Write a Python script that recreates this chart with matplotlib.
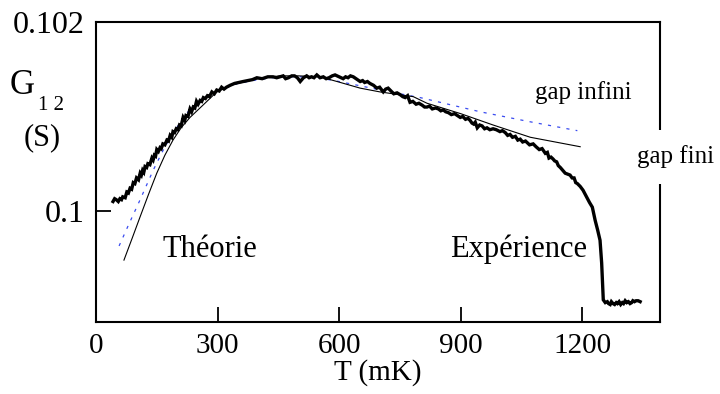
import matplotlib
matplotlib.use('Agg')
from matplotlib import pyplot as plt

plt.rcParams['font.family'] = ['Liberation Serif', 'DejaVu Serif']

# mesure : (T en mK, G12 en S), par tronçons
montee = [(42, .10010), (46, .10013), (50, .10012), (55, .10010), (59, .10013), (63, .10012),
          (66, .10015), (72, .10014), (76, .10020), (80, .10019), (84, .10024), (88, .10023),
          (92, .10030), (96, .10029), (100, .10035), (105, .10033), (109, .10040), (112, .10038),
          (115, .10043), (118, .10041), (121, .10047), (125, .10046), (128, .10050), (133, .10049),
          (138, .10056), (141, .10054), (144, .10059), (147, .10058), (150, .10065), (154, .10063),
          (158, .10067), (161, .10066), (165, .10071), (170, .10070), (175, .10075), (179, .10074),
          (183, .10080), (187, .10078), (190, .10084), (194, .10083), (198, .10087), (202, .10086),
          (206, .10091), (210, .10090), (215, .10099), (219, .10096), (222, .10101), (227, .10100),
          (232, .10108), (236, .10105), (240, .10110), (244, .10109), (248, .10116), (252, .10113),
          (257, .10117), (261, .10116), (265, .10120), (270, .10119), (275, .10122), (280, .10121),
          (286, .10126), (292, .10124), (298, .10128), (304, .10127), (310, .10131), (316, .10129),
          (322, .10131), (331, .10133), (342, .10135), (352, .10136), (363, .10137), (375, .10138),
          (386, .10139), (397, .10141), (410, .10140), (424, .10142)]
plateau = [(437, .10142), (446, .10141), (454, .10142), (462, .10143), (468, .10140), (475, .10141),
           (483, .10143), (490, .10143), (497, .10141), (504, .10137), (512, .10141), (520, .10143),
           (526, .10141), (532, .10142), (538, .10141), (545, .10144), (553, .10141), (561, .10142),
           (568, .10140), (575, .10141), (583, .10143), (590, .10144), (600, .10142), (605, .10141),
           (610, .10140), (616, .10142), (622, .10141), (628, .10143), (635, .10142), (645, .10139)]
descente = [(652, .10137), (658, .10138), (663, .10136), (670, .10137), (676, .10135), (685, .10133),
            (693, .10130), (700, .10131), (709, .10126), (715, .10129), (721, .10130), (728, .10127),
            (735, .10124), (743, .10125), (751, .10123), (757, .10121), (763, .10120), (769, .10122),
            (775, .10115), (782, .10116), (790, .10113), (797, .10114), (805, .10112), (811, .10110),
            (817, .10110), (823, .10111), (830, .10108), (838, .10109), (845, .10108), (851, .10106),
            (857, .10107), (863, .10105), (870, .10104), (877, .10102), (885, .10103), (892, .10101),
            (899, .10099), (905, .10100), (912, .10097), (918, .10098), (923, .10096), (928, .10093),
            (932, .10092), (936, .10094), (941, .10088), (947, .10091), (953, .10090), (959, .10087),
            (965, .10088), (972, .10086), (980, .10087), (988, .10086), (997, .10084), (1003, .10085),
            (1010, .10083), (1016, .10080), (1022, .10081), (1028, .10078), (1035, .10079),
            (1041, .10075), (1047, .10076), (1053, .10073), (1060, .10074), (1070, .10070),
            (1079, .10071), (1086, .10068), (1094, .10065), (1101, .10066), (1109, .10061),
            (1114, .10062), (1118, .10056), (1123, .10057), (1128, .10055), (1132, .10053),
            (1137, .10052), (1141, .10048), (1146, .10046), (1152, .10043), (1158, .10040),
            (1164, .10039), (1170, .10038), (1175, .10035), (1180, .10035), (1184, .10030),
            (1188, .10029)]
chute = [(1195, .10026), (1202, .10022), (1212, .10014), (1218, .10009), (1225, .10004),
         (1232, .09990), (1238, .09980), (1244, .09969), (1248, .09945), (1252, .09906)]
fond = [(1257, .09903), (1262, .09904), (1265, .09902), (1269, .09901), (1272, .09904),
        (1276, .09902), (1280, .09901), (1284, .09903), (1287, .09902), (1291, .09904),
        (1295, .09901), (1299, .09903), (1302, .09902), (1306, .09905), (1310, .09903),
        (1314, .09904), (1318, .09902), (1322, .09903), (1325, .09905), (1329, .09904),
        (1333, .09905), (1338, .09905), (1343, .09904)]

mesure = montee + plateau + descente + chute + fond
T_exp = [p[0] for p in mesure]
G_exp = [p[1] for p in mesure]

# théorie, gap fini (trait plein)
T_fini = [69, 90, 109, 130, 150, 170, 190, 210, 232, 264, 298, 340, 400, 454, 500, 553,
          595, 652, 701, 783, 817, 900, 980, 1072, 1195]
G_fini = [0.09948, 0.09972, 0.09994, 0.10018, 0.10040, 0.10059, 0.10075, 0.10088, 0.10099,
          0.10112, 0.10126, 0.10134, 0.10140, 0.10143, 0.10143, 0.10142, 0.10137, 0.10130,
          0.10126, 0.10121, 0.10114, 0.10103, 0.10091, 0.10078, 0.10068]

# théorie, gap infini (pointillé bleu)
T_inf = [57, 80, 109, 141, 170, 190, 220, 260, 300, 350, 400, 454, 536, 600, 726, 800,
         948, 1064, 1188]
G_inf = [0.09963, 0.09985, 0.10012, 0.10043, 0.10068, 0.10082, 0.10102, 0.10118, 0.10127,
         0.10135, 0.10139, 0.10142, 0.10142, 0.10137, 0.10126, 0.10120, 0.10105, 0.10095,
         0.10085]

x_ticks = [0, 300, 600, 900, 1200]
y_ticks = [0.1, 0.102]
y_ticklabels = ['0.1', '0.102']

fig = plt.figure(figsize=(7.2, 3.94), dpi=100)
ax = fig.add_axes([96/720, 1-322/394, 564/720, 300/394])

ax.plot(T_inf, G_inf, color='#3a4cf0', lw=0.9, linestyle=(0, (2.5, 5)))
ax.plot(T_fini, G_fini, color='black', lw=0.8)
ax.plot(T_exp, G_exp, color='black', lw=2.4, solid_joinstyle='miter')

ax.set_xlim(0, 1392)
ax.set_ylim(0.098825, 0.102)
ax.set_xticks(x_ticks)
ax.set_yticks(y_ticks)
ax.set_yticklabels(y_ticklabels)
ax.tick_params(direction='in', length=11, width=1.3, labelsize=21, pad=8)
ax.tick_params(axis='y', labelsize=23)
for s in ax.spines.values():
    s.set_linewidth(1.5)

ax.set_xlabel('T (mK)', fontsize=21, labelpad=0)

ax.text(163, 0.09959, 'Théorie', fontsize=22, va='center', ha='left')
ax.text(874, 0.09959, 'Expérience', fontsize=22, va='center', ha='left')
ax.text(1084, 0.10125, 'gap infini', fontsize=18, va='center', ha='left')

# étiquette hors des axes, sur fond blanc qui coupe le cadre
fig.text(637/720, 1-157/394, 'gap fini', fontsize=18, va='center', ha='left',
         bbox=dict(facecolor='white', edgecolor='none', pad=11), zorder=5)

fig.text(10/720, 1-85/394, 'G', fontsize=25, va='center', ha='left')
fig.text(38/720, 1-106/394, '1 2', fontsize=15, va='center', ha='left')
fig.text(24/720, 1-138/394, '(S)', fontsize=22, va='center', ha='left')

plt.savefig('out.png', dpi=100)
